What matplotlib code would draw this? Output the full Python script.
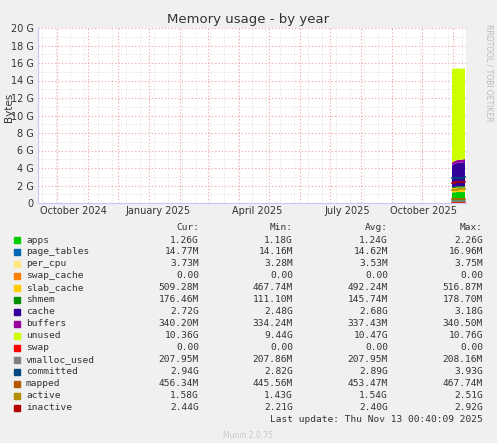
import matplotlib
matplotlib.use("Agg")
import matplotlib.pyplot as plt
import matplotlib.dates as mdates
import numpy as np
from datetime import datetime

G = 1024 ** 3

# samples (late Oct .. Nov 13 2025), values in GiB
dates = [datetime(2025, 10, 31), datetime(2025, 11, 3), datetime(2025, 11, 6),
         datetime(2025, 11, 9), datetime(2025, 11, 12), datetime(2025, 11, 13)]
apps = [1.20, 1.22, 1.25, 1.24, 1.26, 1.26]
page_tables = [0.0143, 0.0145, 0.0146, 0.0147, 0.0148, 0.0148]
per_cpu = [0.0035, 0.0036, 0.0037, 0.0037, 0.0037, 0.0037]
swap_cache = [0, 0, 0, 0, 0, 0]
slab_cache = [0.46, 0.48, 0.49, 0.50, 0.50, 0.50]
shmem = [0.11, 0.14, 0.15, 0.16, 0.17, 0.17]
cache = [2.50, 2.62, 2.70, 2.68, 2.72, 2.72]
buffers = [0.33, 0.33, 0.33, 0.33, 0.34, 0.34]
unused = [10.70, 10.55, 10.45, 10.40, 10.36, 10.36]

swap = [0, 0, 0, 0, 0, 0]
vmalloc_used = [0.203, 0.203, 0.203, 0.203, 0.203, 0.203]
committed = [2.82, 2.85, 2.90, 2.88, 2.94, 2.94]
mapped = [0.435, 0.44, 0.445, 0.443, 0.446, 0.446]
active = [1.45, 1.50, 1.55, 1.56, 1.58, 1.58]
inactive = [2.25, 2.35, 2.40, 2.42, 2.44, 2.44]

stack_names = ["apps", "page_tables", "per_cpu", "swap_cache", "slab_cache",
               "shmem", "cache", "buffers", "unused"]
stack_vals = [apps, page_tables, per_cpu, swap_cache, slab_cache, shmem,
              cache, buffers, unused]
line_names = ["swap", "vmalloc_used", "committed", "mapped", "active", "inactive"]
line_vals = [swap, vmalloc_used, committed, mapped, active, inactive]

colors = {"apps": "#00CC00", "page_tables": "#0066B3", "per_cpu": "#FFE680",
          "swap_cache": "#FF8000", "slab_cache": "#FFCC00", "shmem": "#008F00",
          "cache": "#330099", "buffers": "#990099", "unused": "#CCFF00",
          "swap": "#FF0000", "vmalloc_used": "#808080", "committed": "#00487D",
          "mapped": "#B35A00", "active": "#B38F00", "inactive": "#B30000"}

legend_rows = [
    ("apps", "1.26G", "1.18G", "1.24G", "2.26G"),
    ("page_tables", "14.77M", "14.16M", "14.62M", "16.96M"),
    ("per_cpu", "3.73M", "3.28M", "3.53M", "3.75M"),
    ("swap_cache", "0.00", "0.00", "0.00", "0.00"),
    ("slab_cache", "509.28M", "467.74M", "492.24M", "516.87M"),
    ("shmem", "176.46M", "111.10M", "145.74M", "178.70M"),
    ("cache", "2.72G", "2.48G", "2.68G", "3.18G"),
    ("buffers", "340.20M", "334.24M", "337.43M", "340.50M"),
    ("unused", "10.36G", "9.44G", "10.47G", "10.76G"),
    ("swap", "0.00", "0.00", "0.00", "0.00"),
    ("vmalloc_used", "207.95M", "207.86M", "207.95M", "208.16M"),
    ("committed", "2.94G", "2.82G", "2.89G", "3.93G"),
    ("mapped", "456.34M", "445.56M", "453.47M", "467.74M"),
    ("active", "1.58G", "1.43G", "1.54G", "2.51G"),
    ("inactive", "2.44G", "2.21G", "2.40G", "2.92G"),
]

W, H = 497, 443
fig = plt.figure(figsize=(W / 100, H / 100), dpi=100, facecolor="#F0F0F0")
ax = fig.add_axes([38 / W, 1 - 203 / H, (466 - 38) / W, (203 - 28) / H])
ax.set_facecolor("white")

x = mdates.date2num(dates)
ax.stackplot(x, *[np.array(v) * G for v in stack_vals],
             colors=[colors[n] for n in stack_names], linewidth=0)
for n, v in zip(line_names, line_vals):
    ax.step(x, np.array(v) * G, where="post", color=colors[n], lw=1.2)

ax.set_xlim(mdates.date2num(datetime(2024, 9, 12)), mdates.date2num(datetime(2025, 11, 14)))
ax.set_ylim(0, 20 * G)

# grid
ax.set_xticks([mdates.date2num(datetime(2024 + (m - 1) // 12, (m - 1) % 12 + 1, 1))
               for m in range(10, 24)])
ax.set_xticks(mdates.date2num(np.arange(np.datetime64("2024-09-16"), np.datetime64("2025-11-14"),
                                        np.timedelta64(14, "D")).astype(datetime)), minor=True)
ax.set_yticks(np.arange(0, 21, 2) * G)
ax.set_yticks(np.arange(1, 20, 2) * G, minor=True)
ax.grid(True, which="major", color="#F0A0A0", ls=(0, (1, 2)), lw=0.8)
ax.grid(True, which="minor", color="#D8D8D8", ls=(0, (1, 2)), lw=0.6)
ax.set_axisbelow(True)
ax.tick_params(which="both", length=0, labelsize=7, colors="#333333", pad=3)
ax.set_xticklabels([])
ax.set_yticklabels(["0"] + ["%d G" % v for v in range(2, 21, 2)])
for s in ["top", "right"]:
    ax.spines[s].set_visible(False)
for s in ["left", "bottom"]:
    ax.spines[s].set_color("#C8C8FF")

label_pos = [(73, "October 2024"), (158, "January 2025"), (257, "April 2025"),
             (347, "July 2025"), (423, "October 2025")]
for px, t in label_pos:
    fig.text(px / W, 1 - 211 / H, t, ha="center", va="center", fontsize=7, color="#333333")

fig.text(248 / W, 1 - 19 / H, "Memory usage - by year", ha="center", va="center",
         fontsize=9.5, color="#333333")
fig.text(9 / W, 1 - 107 / H, "Bytes", rotation=90, ha="center", va="center",
         fontsize=7.5, color="#333333")
fig.text(489 / W, 1 - 24 / H, "RRDTOOL / TOBI OETIKER", rotation=270, ha="center",
         va="top", fontsize=5.5, color="#BBBBBB")

mono = "DejaVu Sans Mono"
fs = 6.8
for cx, h in zip([199, 293, 388, 483], ["Cur:", "Min:", "Avg:", "Max:"]):
    fig.text(cx / W, 1 - 227 / H, h, ha="right", va="center", family=mono, fontsize=fs, color="#333333")
for i, row in enumerate(legend_rows):
    yy = 1 - (240 + 12 * i) / H
    fig.patches.append(plt.Rectangle((14 / W, yy - 3 / H), 6 / W, 6 / H,
                                     transform=fig.transFigure, color=colors[row[0]]))
    fig.text(26 / W, yy, row[0], ha="left", va="center", family=mono, fontsize=fs, color="#333333")
    for cx, v in zip([199, 293, 388, 483], row[1:]):
        fig.text(cx / W, yy, v, ha="right", va="center", family=mono, fontsize=fs, color="#333333")
fig.text(483 / W, 1 - 419 / H, "Last update: Thu Nov 13 00:40:09 2025", ha="right", va="center",
         family=mono, fontsize=fs, color="#333333")
fig.text(248 / W, 1 - 435 / H, "Munin 2.0.75", ha="center", va="center", fontsize=5.5, color="#C8C8C8")

fig.savefig("out.png", dpi=100, facecolor=fig.get_facecolor())
